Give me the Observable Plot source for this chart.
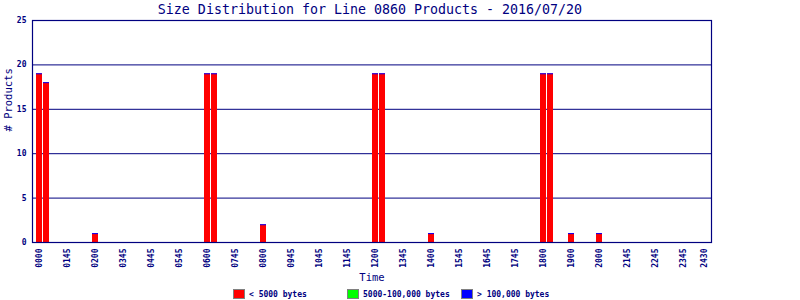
<!DOCTYPE html>
<html><head><meta charset="utf-8">
<script src="https://cdn.jsdelivr.net/npm/d3@7"></script>
<script src="https://cdn.jsdelivr.net/npm/@observablehq/plot@0.6"></script>
<style>
body{margin:0;background:#fff;font-family:"DejaVu Sans Mono",monospace;color:#000080;position:relative;}
#title{position:absolute;top:1px;left:0;height:18px;line-height:18px;font-size:13.3px;text-align:center;width:740px;}
#legend{height:14px;position:relative;font-size:8px;font-weight:bold;}
.item{position:absolute;top:3px;display:flex;align-items:center;}
.sw{width:10px;height:8px;border:1px solid #808080;margin-right:4px;}
</style></head>
<body>
<div id="chart"></div>
<div id="title">Size Distribution for Line 0860 Products - 2016/07/20</div>
<div id="legend"></div>
<script>
// time slots (15-minute bins)
const hours = ["00","01","02","03","04","05","06","07","08","09","10","11","12","13","14","15","16","17","18","19","20","21","22","23"];
const quarters = ["00","15","30","45"];
const slots = [];
for (const h of hours) for (const q of quarters) slots.push(h + q);

// non-empty bins and their product counts
const barTimes  = ["0000","0015","0200","0600","0615","0800","1200","1215","1400","1800","1815","1900","2000"];
const smallCnt  = [19, 18, 1, 19, 19, 2, 19, 19, 1, 19, 19, 1, 1];   // < 5000 bytes
const mediumCnt = [0, 0, 0, 0, 0, 0, 0, 0, 0, 0, 0, 0, 0];          // 5000-100,000 bytes
const largeCnt  = [0, 0, 0, 0, 0, 0, 0, 0, 0, 0, 0, 0, 0];          // > 100,000 bytes

// x tick positions and their printed labels
const tickSlots  = ["0000","0100","0200","0300","0400","0500","0600","0700","0800","0900","1000","1100","1200","1300","1400","1500","1600","1700","1800","1900","2000","2100","2200","2300","2345"];
const tickLabels = ["0000","0145","0200","0345","0445","0545","0600","0745","0800","0945","1045","1145","1200","1345","1400","1545","1645","1745","1800","1900","2000","2145","2245","2345","2430"];
const yTicks = [0, 5, 10, 15, 20, 25];

const seriesNames = ["< 5000 bytes", "5000-100,000 bytes", "> 100,000 bytes"];
const seriesColors = ["#ff0000", "#00ff00", "#0000ff"];

const rows = [];
barTimes.forEach((t, i) => {
  rows.push({slot: t, series: seriesNames[0], n: smallCnt[i]});
  rows.push({slot: t, series: seriesNames[1], n: mediumCnt[i]});
  rows.push({slot: t, series: seriesNames[2], n: largeCnt[i]});
});
const totals = barTimes.map((t, i) => ({slot: t, total: smallCnt[i] + mediumCnt[i] + largeCnt[i]}));
const labelOf = new Map(tickSlots.map((s, i) => [s, tickLabels[i]]));
const navy = "#000080";

const chart = Plot.plot({
  width: 800, height: 286,
  marginLeft: 32, marginRight: 89, marginTop: 20, marginBottom: 44,
  style: {fontFamily: "DejaVu Sans Mono, monospace", color: navy, background: "#fff"},
  x: {type: "band", domain: slots, range: [36, 708], paddingInner: 0.14, paddingOuter: 0.07, axis: null},
  y: {domain: [0, 25], axis: null},
  color: {domain: seriesNames, range: seriesColors},
  marks: [
    Plot.ruleY(yTicks, {stroke: navy, strokeWidth: 1}),
    Plot.rectY(rows, Plot.stackY({x: "slot", y: "n", fill: "series", order: seriesNames})),
    Plot.tickY(totals, {x: "slot", y: "total", stroke: "#0000ff", strokeWidth: 1}),
    Plot.frame({stroke: navy, strokeWidth: 1.2}),
    Plot.axisY(yTicks, {tickSize: 0, tickPadding: 6, fontSize: 8, fontWeight: "bold", fill: navy, label: null}),
    Plot.axisX(tickSlots, {tickSize: 0, tickPadding: 6, tickRotate: -90, fontSize: 8, fontWeight: "bold", fill: navy, label: null, tickFormat: d => labelOf.get(d)}),
    Plot.text(["Time"], {frameAnchor: "bottom", dy: 38, fontSize: 10.5, fill: navy}),
    Plot.text(["# Products"], {frameAnchor: "left", dx: -24, rotate: -90, fontSize: 10.5, fill: navy})
  ]
});
document.getElementById("chart").appendChild(chart);

const legend = document.getElementById("legend");
const lx = [233, 347, 461];
seriesNames.forEach((s, i) => {
  const d = document.createElement("div");
  d.className = "item";
  d.style.left = lx[i] + "px";
  d.innerHTML = `<span class="sw" style="background:${seriesColors[i]}"></span><span>${s}</span>`;
  legend.appendChild(d);
});
</script>
</body></html>
